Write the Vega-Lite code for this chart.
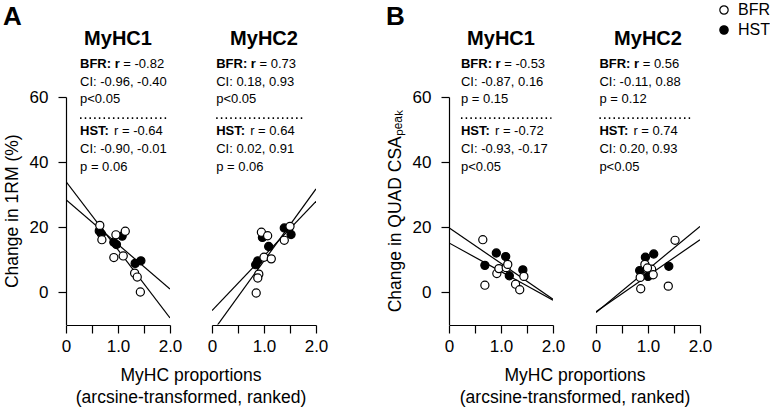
{
  "$schema": "https://vega.github.io/schema/vega-lite/v6.json",
  "padding": {"left": 3, "top": 2, "right": 0, "bottom": 0},
  "background": "white",
  "config": {
    "font": "Liberation Sans",
    "view": {"stroke": null},
    "axis": {
      "grid": false, "domainColor": "black", "tickColor": "black", "labelColor": "black", "titleColor": "black",
      "labelFont": "Liberation Sans", "titleFont": "Liberation Sans", "labelFontSize": 17, "titleFontSize": 17.5,
      "titleFontWeight": "normal", "tickSize": 8, "domainWidth": 1.2, "tickWidth": 1.2
    },
    "title": {"fontSize": 26, "fontWeight": "bold", "anchor": "start", "color": "black", "font": "Liberation Sans", "dy": 3},
    "legend": {
      "padding": 0, "labelFontSize": 16, "labelFont": "Liberation Sans", "labelColor": "black",
      "symbolSize": 70, "symbolStrokeColor": "black", "symbolStrokeWidth": 1.2, "rowPadding": 4, "labelOffset": 6
    },
    "text": {"font": "Liberation Sans", "fontSize": 13, "color": "black"}
  },
  "spacing": 58,
  "datasets": {
    "A": [
      {"kind": "ln", "panel": "MyHC1", "group": "BFR", "x": 0, "y": 34.0},
      {"kind": "ln", "panel": "MyHC1", "group": "BFR", "x": 2, "y": -8.0},
      {"kind": "ln", "panel": "MyHC1", "group": "HST", "x": 0, "y": 28.4},
      {"kind": "ln", "panel": "MyHC1", "group": "HST", "x": 2, "y": 0.9},
      {"kind": "ln", "panel": "MyHC2", "group": "BFR", "x": 0, "y": -12.5},
      {"kind": "ln", "panel": "MyHC2", "group": "BFR", "x": 2, "y": 31.7},
      {"kind": "ln", "panel": "MyHC2", "group": "HST", "x": 0, "y": -5.7},
      {"kind": "ln", "panel": "MyHC2", "group": "HST", "x": 2, "y": 27.9},
      {"kind": "pt", "panel": "MyHC1", "group": "HST", "x": 0.64, "y": 18.8},
      {"kind": "pt", "panel": "MyHC1", "group": "HST", "x": 0.68, "y": 17.9},
      {"kind": "pt", "panel": "MyHC1", "group": "HST", "x": 0.92, "y": 15.3},
      {"kind": "pt", "panel": "MyHC1", "group": "HST", "x": 0.97, "y": 14.6},
      {"kind": "pt", "panel": "MyHC1", "group": "HST", "x": 1.08, "y": 17.2},
      {"kind": "pt", "panel": "MyHC1", "group": "HST", "x": 1.33, "y": 8.8},
      {"kind": "pt", "panel": "MyHC1", "group": "HST", "x": 1.44, "y": 9.6},
      {"kind": "pt", "panel": "MyHC1", "group": "BFR", "x": 0.65, "y": 20.5},
      {"kind": "pt", "panel": "MyHC1", "group": "BFR", "x": 0.69, "y": 16.1},
      {"kind": "pt", "panel": "MyHC1", "group": "BFR", "x": 0.96, "y": 17.6},
      {"kind": "pt", "panel": "MyHC1", "group": "BFR", "x": 1.14, "y": 18.7},
      {"kind": "pt", "panel": "MyHC1", "group": "BFR", "x": 0.92, "y": 10.6},
      {"kind": "pt", "panel": "MyHC1", "group": "BFR", "x": 1.10, "y": 11.1},
      {"kind": "pt", "panel": "MyHC1", "group": "BFR", "x": 1.32, "y": 5.8},
      {"kind": "pt", "panel": "MyHC1", "group": "BFR", "x": 1.37, "y": 4.6},
      {"kind": "pt", "panel": "MyHC1", "group": "BFR", "x": 1.43, "y": 0.0},
      {"kind": "pt", "panel": "MyHC2", "group": "HST", "x": 0.84, "y": 8.4},
      {"kind": "pt", "panel": "MyHC2", "group": "HST", "x": 0.88, "y": 9.6},
      {"kind": "pt", "panel": "MyHC2", "group": "HST", "x": 0.97, "y": 16.8},
      {"kind": "pt", "panel": "MyHC2", "group": "HST", "x": 1.09, "y": 14.0},
      {"kind": "pt", "panel": "MyHC2", "group": "HST", "x": 1.39, "y": 19.7},
      {"kind": "pt", "panel": "MyHC2", "group": "HST", "x": 1.52, "y": 17.7},
      {"kind": "pt", "panel": "MyHC2", "group": "BFR", "x": 0.95, "y": 18.4},
      {"kind": "pt", "panel": "MyHC2", "group": "BFR", "x": 1.07, "y": 17.3},
      {"kind": "pt", "panel": "MyHC2", "group": "BFR", "x": 1.39, "y": 15.9},
      {"kind": "pt", "panel": "MyHC2", "group": "BFR", "x": 1.50, "y": 20.2},
      {"kind": "pt", "panel": "MyHC2", "group": "BFR", "x": 1.00, "y": 10.7},
      {"kind": "pt", "panel": "MyHC2", "group": "BFR", "x": 1.14, "y": 10.2},
      {"kind": "pt", "panel": "MyHC2", "group": "BFR", "x": 0.90, "y": 5.5},
      {"kind": "pt", "panel": "MyHC2", "group": "BFR", "x": 0.88, "y": 4.3},
      {"kind": "pt", "panel": "MyHC2", "group": "BFR", "x": 0.85, "y": -0.3},
      {"kind": "ann", "panel": "MyHC1", "group": "BFR", "line": "r", "x": 0.27, "y": 68.9, "bold": "BFR: r", "rest": "= -0.82"},
      {"kind": "ann", "panel": "MyHC1", "group": "BFR", "line": "ci", "x": 0.27, "y": 63.5, "bold": "", "rest": "CI: -0.96, -0.40"},
      {"kind": "ann", "panel": "MyHC1", "group": "BFR", "line": "p", "x": 0.27, "y": 58.2, "bold": "", "rest": "p<0.05"},
      {"kind": "dot", "panel": "MyHC1", "x": 0.27, "x2": 1.94, "y": 53.5},
      {"kind": "ann", "panel": "MyHC1", "group": "HST", "line": "r", "x": 0.27, "y": 48.4, "bold": "HST:", "rest": "r = -0.64"},
      {"kind": "ann", "panel": "MyHC1", "group": "HST", "line": "ci", "x": 0.27, "y": 42.8, "bold": "", "rest": "CI: -0.90, -0.01"},
      {"kind": "ann", "panel": "MyHC1", "group": "HST", "line": "p", "x": 0.27, "y": 37.1, "bold": "", "rest": "p = 0.06"},
      {"kind": "ann", "panel": "MyHC2", "group": "BFR", "line": "r", "x": 0.08, "y": 68.9, "bold": "BFR: r", "rest": "= 0.73"},
      {"kind": "ann", "panel": "MyHC2", "group": "BFR", "line": "ci", "x": 0.08, "y": 63.5, "bold": "", "rest": "CI: 0.18, 0.93"},
      {"kind": "ann", "panel": "MyHC2", "group": "BFR", "line": "p", "x": 0.08, "y": 58.2, "bold": "", "rest": "p<0.05"},
      {"kind": "dot", "panel": "MyHC2", "x": 0.08, "x2": 1.78, "y": 53.5},
      {"kind": "ann", "panel": "MyHC2", "group": "HST", "line": "r", "x": 0.08, "y": 48.4, "bold": "HST:", "rest": "r = 0.64"},
      {"kind": "ann", "panel": "MyHC2", "group": "HST", "line": "ci", "x": 0.08, "y": 42.8, "bold": "", "rest": "CI: 0.02, 0.91"},
      {"kind": "ann", "panel": "MyHC2", "group": "HST", "line": "p", "x": 0.08, "y": 37.1, "bold": "", "rest": "p = 0.06"}
    ],
    "B": [
      {"kind": "ln", "panel": "MyHC1", "group": "BFR", "x": 0, "y": 19.8},
      {"kind": "ln", "panel": "MyHC1", "group": "BFR", "x": 2, "y": -2.2},
      {"kind": "ln", "panel": "MyHC1", "group": "HST", "x": 0, "y": 15.1},
      {"kind": "ln", "panel": "MyHC1", "group": "HST", "x": 2, "y": -2.5},
      {"kind": "ln", "panel": "MyHC2", "group": "BFR", "x": 0, "y": -6.3},
      {"kind": "ln", "panel": "MyHC2", "group": "BFR", "x": 2, "y": 20.2},
      {"kind": "ln", "panel": "MyHC2", "group": "HST", "x": 0, "y": -6.1},
      {"kind": "ln", "panel": "MyHC2", "group": "HST", "x": 2, "y": 16.1},
      {"kind": "pt", "panel": "MyHC1", "group": "HST", "x": 0.69, "y": 8.2},
      {"kind": "pt", "panel": "MyHC1", "group": "HST", "x": 0.91, "y": 12.0},
      {"kind": "pt", "panel": "MyHC1", "group": "HST", "x": 1.09, "y": 10.9},
      {"kind": "pt", "panel": "MyHC1", "group": "HST", "x": 1.16, "y": 5.0},
      {"kind": "pt", "panel": "MyHC1", "group": "HST", "x": 1.42, "y": 6.8},
      {"kind": "pt", "panel": "MyHC1", "group": "BFR", "x": 0.65, "y": 16.1},
      {"kind": "pt", "panel": "MyHC1", "group": "BFR", "x": 0.69, "y": 2.1},
      {"kind": "pt", "panel": "MyHC1", "group": "BFR", "x": 0.92, "y": 5.7},
      {"kind": "pt", "panel": "MyHC1", "group": "BFR", "x": 0.96, "y": 7.2},
      {"kind": "pt", "panel": "MyHC1", "group": "BFR", "x": 1.10, "y": 7.5},
      {"kind": "pt", "panel": "MyHC1", "group": "BFR", "x": 1.13, "y": 8.5},
      {"kind": "pt", "panel": "MyHC1", "group": "BFR", "x": 1.28, "y": 2.4},
      {"kind": "pt", "panel": "MyHC1", "group": "BFR", "x": 1.36, "y": 0.7},
      {"kind": "pt", "panel": "MyHC1", "group": "BFR", "x": 1.44, "y": 4.8},
      {"kind": "pt", "panel": "MyHC2", "group": "HST", "x": 0.95, "y": 10.7},
      {"kind": "pt", "panel": "MyHC2", "group": "HST", "x": 1.11, "y": 11.7},
      {"kind": "pt", "panel": "MyHC2", "group": "HST", "x": 0.84, "y": 6.6},
      {"kind": "pt", "panel": "MyHC2", "group": "HST", "x": 1.00, "y": 4.8},
      {"kind": "pt", "panel": "MyHC2", "group": "HST", "x": 1.40, "y": 7.9},
      {"kind": "pt", "panel": "MyHC2", "group": "BFR", "x": 1.52, "y": 15.9},
      {"kind": "pt", "panel": "MyHC2", "group": "BFR", "x": 0.94, "y": 8.5},
      {"kind": "pt", "panel": "MyHC2", "group": "BFR", "x": 1.07, "y": 7.0},
      {"kind": "pt", "panel": "MyHC2", "group": "BFR", "x": 1.10, "y": 5.3},
      {"kind": "pt", "panel": "MyHC2", "group": "BFR", "x": 0.85, "y": 4.5},
      {"kind": "pt", "panel": "MyHC2", "group": "BFR", "x": 0.86, "y": 1.0},
      {"kind": "pt", "panel": "MyHC2", "group": "BFR", "x": 1.39, "y": 1.8},
      {"kind": "pt", "panel": "MyHC2", "group": "BFR", "x": 0.99, "y": 7.4},
      {"kind": "ann", "panel": "MyHC1", "group": "BFR", "line": "r", "x": 0.23, "y": 68.9, "bold": "BFR: r", "rest": "= -0.53"},
      {"kind": "ann", "panel": "MyHC1", "group": "BFR", "line": "ci", "x": 0.23, "y": 63.5, "bold": "", "rest": "CI: -0.87, 0.16"},
      {"kind": "ann", "panel": "MyHC1", "group": "BFR", "line": "p", "x": 0.23, "y": 58.2, "bold": "", "rest": "p = 0.15"},
      {"kind": "dot", "panel": "MyHC1", "x": 0.23, "x2": 1.97, "y": 53.5},
      {"kind": "ann", "panel": "MyHC1", "group": "HST", "line": "r", "x": 0.23, "y": 48.4, "bold": "HST:", "rest": "r = -0.72"},
      {"kind": "ann", "panel": "MyHC1", "group": "HST", "line": "ci", "x": 0.23, "y": 42.8, "bold": "", "rest": "CI: -0.93, -0.17"},
      {"kind": "ann", "panel": "MyHC1", "group": "HST", "line": "p", "x": 0.23, "y": 37.1, "bold": "", "rest": "p<0.05"},
      {"kind": "ann", "panel": "MyHC2", "group": "BFR", "line": "r", "x": 0.065, "y": 68.9, "bold": "BFR: r", "rest": "= 0.56"},
      {"kind": "ann", "panel": "MyHC2", "group": "BFR", "line": "ci", "x": 0.065, "y": 63.5, "bold": "", "rest": "CI: -0.11, 0.88"},
      {"kind": "ann", "panel": "MyHC2", "group": "BFR", "line": "p", "x": 0.065, "y": 58.2, "bold": "", "rest": "p = 0.12"},
      {"kind": "dot", "panel": "MyHC2", "x": 0.065, "x2": 1.81, "y": 53.5},
      {"kind": "ann", "panel": "MyHC2", "group": "HST", "line": "r", "x": 0.065, "y": 48.4, "bold": "HST:", "rest": "r = 0.74"},
      {"kind": "ann", "panel": "MyHC2", "group": "HST", "line": "ci", "x": 0.065, "y": 42.8, "bold": "", "rest": "CI: 0.20, 0.93"},
      {"kind": "ann", "panel": "MyHC2", "group": "HST", "line": "p", "x": 0.065, "y": 37.1, "bold": "", "rest": "p<0.05"}
    ]
  },
  "hconcat": [
    {
      "title": {"text": "A", "frame": "bounds", "offset": 2},
      "data": {"name": "A"},
      "facet": {"column": {"field": "panel", "type": "nominal", "title": ["MyHC proportions", "(arcsine-transformed, ranked)"],
        "header": {"labelOrient": "top", "titleOrient": "bottom", "labelFontSize": 20, "labelFontWeight": "bold", "labelColor": "black", "labelFont": "Liberation Sans", "labelPadding": 9,
          "titleFontSize": 17.5, "titleFontWeight": "normal", "titleColor": "black", "titleFont": "Liberation Sans", "titleLineHeight": 22, "titlePadding": 3}}},
      "spacing": 42,
      "resolve": {"scale": {"fill": "shared"}, "legend": {"fill": "shared"}},
      "spec": {
        "width": 104, "height": 227.5,
        "encoding": {
          "x": {"field": "x", "type": "quantitative", "scale": {"domain": [0, 2], "nice": false, "zero": false},
            "axis": {"values": [0, 0.5, 1, 1.5, 2], "labelExpr": "datum.value == 0 ? '0' : (datum.value == 1 || datum.value == 2) ? format(datum.value, '.1f') : ''", "title": null, "labelPadding": 5, "labelFlush": false}},
          "y": {"field": "y", "type": "quantitative", "scale": {"domain": [-10, 60], "nice": false, "zero": false},
            "axis": {"values": [0, 20, 40, 60], "title": "Change in 1RM (%)", "labelPadding": 10, "titlePadding": 8}}
        },
        "layer": [
          {"transform": [{"filter": "datum.kind == 'ln'"}], "mark": {"type": "line", "color": "black", "strokeWidth": 1.2, "clip": true}, "encoding": {"detail": {"field": "group"}}},
          {"transform": [{"filter": "datum.kind == 'pt'"}], "mark": {"type": "circle", "size": 66, "stroke": "black", "strokeWidth": 1.2, "opacity": 1},
            "encoding": {"fill": {"field": "group", "type": "nominal", "scale": {"domain": ["BFR", "HST"], "range": ["white", "black"]}, "legend": {"title": null, "orient": "none", "legendX": 650, "legendY": -95}}}},
          {"transform": [{"filter": "datum.kind == 'ann' && datum.bold != ''"}], "mark": {"type": "text", "align": "left", "baseline": "alphabetic", "fontWeight": "bold"}, "encoding": {"text": {"field": "bold"}}},
          {"transform": [{"filter": "datum.kind == 'ann' && datum.line == 'r' && datum.group == 'BFR'"}], "mark": {"type": "text", "align": "left", "baseline": "alphabetic", "dx": 43.3}, "encoding": {"text": {"field": "rest"}}},
          {"transform": [{"filter": "datum.kind == 'ann' && datum.line == 'r' && datum.group == 'HST'"}], "mark": {"type": "text", "align": "left", "baseline": "alphabetic", "dx": 34}, "encoding": {"text": {"field": "rest"}}},
          {"transform": [{"filter": "datum.kind == 'ann' && datum.line != 'r'"}], "mark": {"type": "text", "align": "left", "baseline": "alphabetic"}, "encoding": {"text": {"field": "rest"}}},
          {"transform": [{"filter": "datum.kind == 'dot'"}], "mark": {"type": "rule", "color": "black", "strokeWidth": 1.6, "strokeDash": [1.5, 3.2]}, "encoding": {"x2": {"field": "x2"}}}
        ]
      }
    },
    {
      "title": {"text": "B", "frame": "bounds", "offset": 2},
      "data": {"name": "B"},
      "facet": {"column": {"field": "panel", "type": "nominal", "title": ["MyHC proportions", "(arcsine-transformed, ranked)"],
        "header": {"labelOrient": "top", "titleOrient": "bottom", "labelFontSize": 20, "labelFontWeight": "bold", "labelColor": "black", "labelFont": "Liberation Sans", "labelPadding": 9,
          "titleFontSize": 17.5, "titleFontWeight": "normal", "titleColor": "black", "titleFont": "Liberation Sans", "titleLineHeight": 22, "titlePadding": 3}}},
      "spacing": 43,
      "spec": {
        "width": 104, "height": 227.5,
        "encoding": {
          "x": {"field": "x", "type": "quantitative", "scale": {"domain": [0, 2], "nice": false, "zero": false},
            "axis": {"values": [0, 0.5, 1, 1.5, 2], "labelExpr": "datum.value == 0 ? '0' : (datum.value == 1 || datum.value == 2) ? format(datum.value, '.1f') : ''", "title": null, "labelPadding": 5, "labelFlush": false}},
          "y": {"field": "y", "type": "quantitative", "scale": {"domain": [-10, 60], "nice": false, "zero": false},
            "axis": {"values": [0, 20, 40, 60], "title": "Change in QUAD CSAₚₑₐₖ", "labelPadding": 10, "titlePadding": 8}}
        },
        "layer": [
          {"transform": [{"filter": "datum.kind == 'ln'"}], "mark": {"type": "line", "color": "black", "strokeWidth": 1.2, "clip": true}, "encoding": {"detail": {"field": "group"}}},
          {"transform": [{"filter": "datum.kind == 'pt'"}], "mark": {"type": "circle", "size": 66, "stroke": "black", "strokeWidth": 1.2, "opacity": 1},
            "encoding": {"fill": {"field": "group", "type": "nominal", "scale": {"domain": ["BFR", "HST"], "range": ["white", "black"]}, "legend": null}}},
          {"transform": [{"filter": "datum.kind == 'ann' && datum.bold != ''"}], "mark": {"type": "text", "align": "left", "baseline": "alphabetic", "fontWeight": "bold"}, "encoding": {"text": {"field": "bold"}}},
          {"transform": [{"filter": "datum.kind == 'ann' && datum.line == 'r' && datum.group == 'BFR'"}], "mark": {"type": "text", "align": "left", "baseline": "alphabetic", "dx": 43.3}, "encoding": {"text": {"field": "rest"}}},
          {"transform": [{"filter": "datum.kind == 'ann' && datum.line == 'r' && datum.group == 'HST'"}], "mark": {"type": "text", "align": "left", "baseline": "alphabetic", "dx": 34}, "encoding": {"text": {"field": "rest"}}},
          {"transform": [{"filter": "datum.kind == 'ann' && datum.line != 'r'"}], "mark": {"type": "text", "align": "left", "baseline": "alphabetic"}, "encoding": {"text": {"field": "rest"}}},
          {"transform": [{"filter": "datum.kind == 'dot'"}], "mark": {"type": "rule", "color": "black", "strokeWidth": 1.6, "strokeDash": [1.5, 3.2]}, "encoding": {"x2": {"field": "x2"}}}
        ]
      }
    }
  ]
}
